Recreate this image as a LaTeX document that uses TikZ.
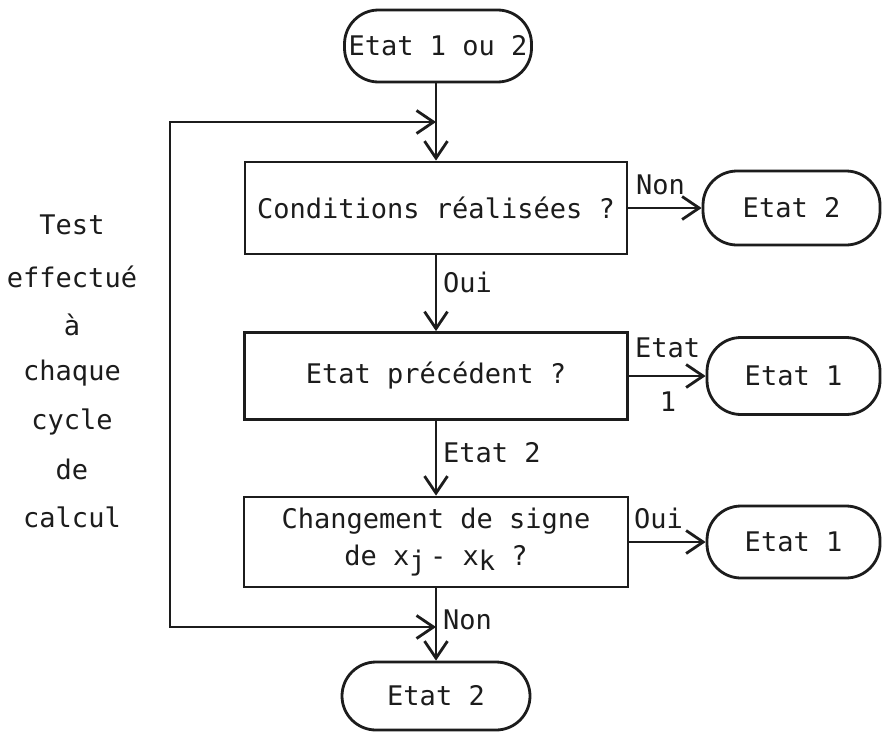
\documentclass[tikz,border=0pt]{standalone}
\usepackage{fontspec}
\newfontfamily\typewriter{DejaVu Sans Mono}
\usetikzlibrary{arrows.meta}
\definecolor{ink}{RGB}{28,28,28}
\newcommand\subdown[1]{\raisebox{-0.4ex}{#1}}
\begin{document}
\begin{tikzpicture}[x=1pt,y=-1pt,
  every node/.style={font=\typewriter\fontsize{27}{37}\selectfont, text=ink},
  term/.style={draw=ink, line width=2.8pt, rectangle, rounded corners=34pt, inner sep=0pt},
  testbox/.style={draw=ink, line width=2.8pt, rectangle, inner sep=0pt, align=center},
  lbl/.style={inner sep=0pt, anchor=west},
  side/.style={inner sep=0pt},
  flow/.style={draw=ink, line width=2.8pt, -{Straight Barb[length=17pt,width=23pt]}},
  loopback/.style={draw=ink, line width=2.8pt, {Straight Barb[length=17pt,width=23pt]}-{Straight Barb[length=17pt,width=23pt]}}
]
% page
\fill[white] (0,0) rectangle (882,736);

% main column
\node[term, minimum width=187pt, minimum height=72pt] (start) at (438,46) {Etat 1 ou 2};
\node[testbox, minimum width=382pt, minimum height=92pt] (cond) at (436,208) {Conditions réalisées ?};
\node[testbox, minimum width=383pt, minimum height=87pt] (prev) at (436,376) {Etat précédent ?};
\node[testbox, minimum width=384pt, minimum height=90pt] (sign) at (436,542) {Changement de signe\\de x\subdown{j}\,- x\subdown{k} ?};
\node[term, minimum width=188pt, minimum height=68pt] (stop) at (436,696) {Etat 2};

% outcomes on the right
\node[term, minimum width=177pt, minimum height=74pt] (outA) at (791.5,208) {Etat 2};
\node[term, minimum width=173pt, minimum height=77pt] (outB) at (793.5,376) {Etat 1};
\node[term, minimum width=173pt, minimum height=72pt] (outC) at (793.5,542) {Etat 1};

% vertical flow
\draw[flow] (start.south -| cond.north) -- (cond.north);
\draw[flow] (cond.south) -- (prev.north);
\draw[flow] (prev.south) -- (sign.north);
\draw[flow] (sign.south) -- (stop.north);

% branches to the right
\draw[flow] (cond.east) -- (outA.west);
\draw[flow] (prev.east) -- (outB.west);
\draw[flow] (sign.east) -- (outC.west);

% loop repeated at every cycle
\coordinate (loopTop) at (170,122);
\coordinate (loopBot) at (170,627);
\draw[loopback] (sign.south |- loopBot) -- (loopBot) -- (loopTop) -- (cond.north |- loopTop);

% branch labels
\node[lbl] at (443,282) {Oui};
\node[lbl] at (443,453) {Etat 2};
\node[lbl] at (443,620) {Non};
\node[lbl] at (636,185) {Non};
\node[lbl] at (635,348) {Etat};
\node[side] at (668,402) {1};
\node[lbl] at (634,518) {Oui};

% side note
\node[side] at (72,225) {Test};
\node[side] at (72,277) {effectué};
\node[side] at (72,325) {à};
\node[side] at (72,373) {chaque};
\node[side] at (72,422) {cycle};
\node[side] at (72,469) {de};
\node[side] at (72,517) {calcul};
\end{tikzpicture}
\end{document}
